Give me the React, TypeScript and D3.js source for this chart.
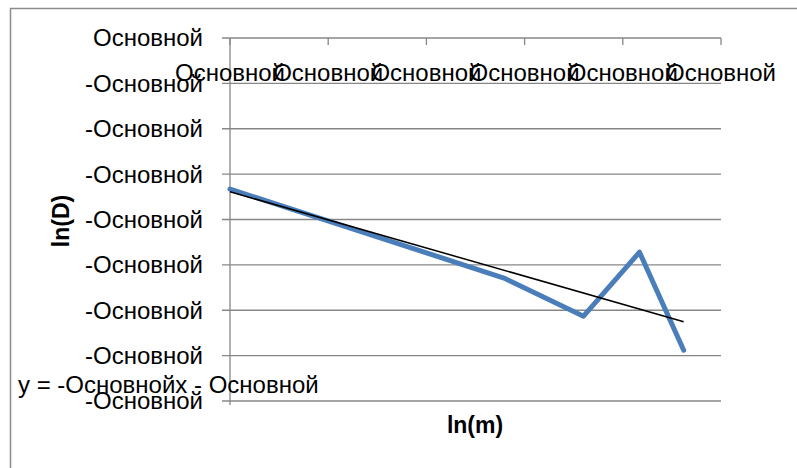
import React from "react";
import * as d3 from "d3";

// ln(m) / ln(D) points
const lnM = [0, 2.79, 3.6, 4.17, 4.62];
const lnD = [-3.33, -5.29, -6.13, -4.72, -6.88];

const xTicks = [0, 1, 2, 3, 4, 5];
const yTicks = [0, -1, -2, -3, -4, -5, -6, -7, -8];
const tickLabel = "Основной";
const equation = "y = -Основнойx - Основной";

const FONT = "'Liberation Sans', Arial, sans-serif";
const GRID = "#878787";

export default function App() {
  const width = 797;
  const height = 468;
  const plot = { left: 230, right: 721, top: 38, bottom: 401 };

  const xScale = d3.scaleLinear().domain([0, 5]).range([plot.left, plot.right]);
  const yScale = d3.scaleLinear().domain([0, -8]).range([plot.top, plot.bottom]);

  const points = lnM.map((x, i) => ({ x, y: lnD[i] }));

  // least squares trend line
  const mx = d3.mean(lnM) as number;
  const my = d3.mean(lnD) as number;
  const sxy = d3.sum(points, (d) => (d.x - mx) * (d.y - my));
  const sxx = d3.sum(points, (d) => (d.x - mx) * (d.x - mx));
  const slope = sxy / sxx;
  const intercept = my - slope * mx;
  const [x0, x1] = d3.extent(lnM) as [number, number];
  const trend = [
    { x: x0, y: intercept + slope * x0 },
    { x: x1, y: intercept + slope * x1 },
  ];

  const line = d3
    .line<{ x: number; y: number }>()
    .x((d) => xScale(d.x))
    .y((d) => yScale(d.y));

  return (
    <svg
      width={width}
      height={height}
      style={{ position: "absolute", left: 0, top: 0, background: "#fff" }}
      fontFamily={FONT}
    >
      {/* chart frame, cut by the window on the right and bottom */}
      <rect x={10.5} y={8.5} width={820} height={480} fill="#fff" stroke="#8c8c8c" strokeWidth={1.5} />

      {/* horizontal grid + y ticks */}
      {yTicks.map((t) => (
        <g key={"y" + t}>
          <line x1={plot.left - 8} x2={plot.right} y1={yScale(t)} y2={yScale(t)} stroke={GRID} strokeWidth={1.3} />
          <text x={203} y={yScale(t)} dy="0.35em" textAnchor="end" fontSize={24} fill="#000">
            {t === 0 ? tickLabel : "-" + tickLabel}
          </text>
        </g>
      ))}

      {/* y axis */}
      <line x1={plot.left} x2={plot.left} y1={plot.top} y2={plot.bottom + 4} stroke={GRID} strokeWidth={1.3} />

      {/* x axis at y = 0 (top), ticks pointing down */}
      {xTicks.map((t) => (
        <line key={"xt" + t} x1={xScale(t)} x2={xScale(t)} y1={yScale(0)} y2={yScale(0) + 7} stroke={GRID} strokeWidth={1.3} />
      ))}
      {xTicks.map((t) => (
        <text key={"xl" + t} x={xScale(t)} y={81} textAnchor="middle" fontSize={24} fill="#000">
          {tickLabel}
        </text>
      ))}

      {/* series */}
      <path d={line(points) ?? ""} fill="none" stroke="#4a7ebb" strokeWidth={5} strokeLinejoin="round" strokeLinecap="round" />
      <path d={line(trend) ?? ""} fill="none" stroke="#000" strokeWidth={1.5} />

      {/* equation */}
      <text x={18} y={393} fontSize={24} fill="#000">
        {equation}
      </text>

      {/* axis titles */}
      <text x={475} y={433} textAnchor="middle" fontSize={23} fontWeight="bold" fill="#000">
        ln(m)
      </text>
      <text
        transform={`translate(${69},${221}) rotate(-90)`}
        textAnchor="middle"
        fontSize={23}
        fontWeight="bold"
        fill="#000"
      >
        ln(D)
      </text>
    </svg>
  );
}
